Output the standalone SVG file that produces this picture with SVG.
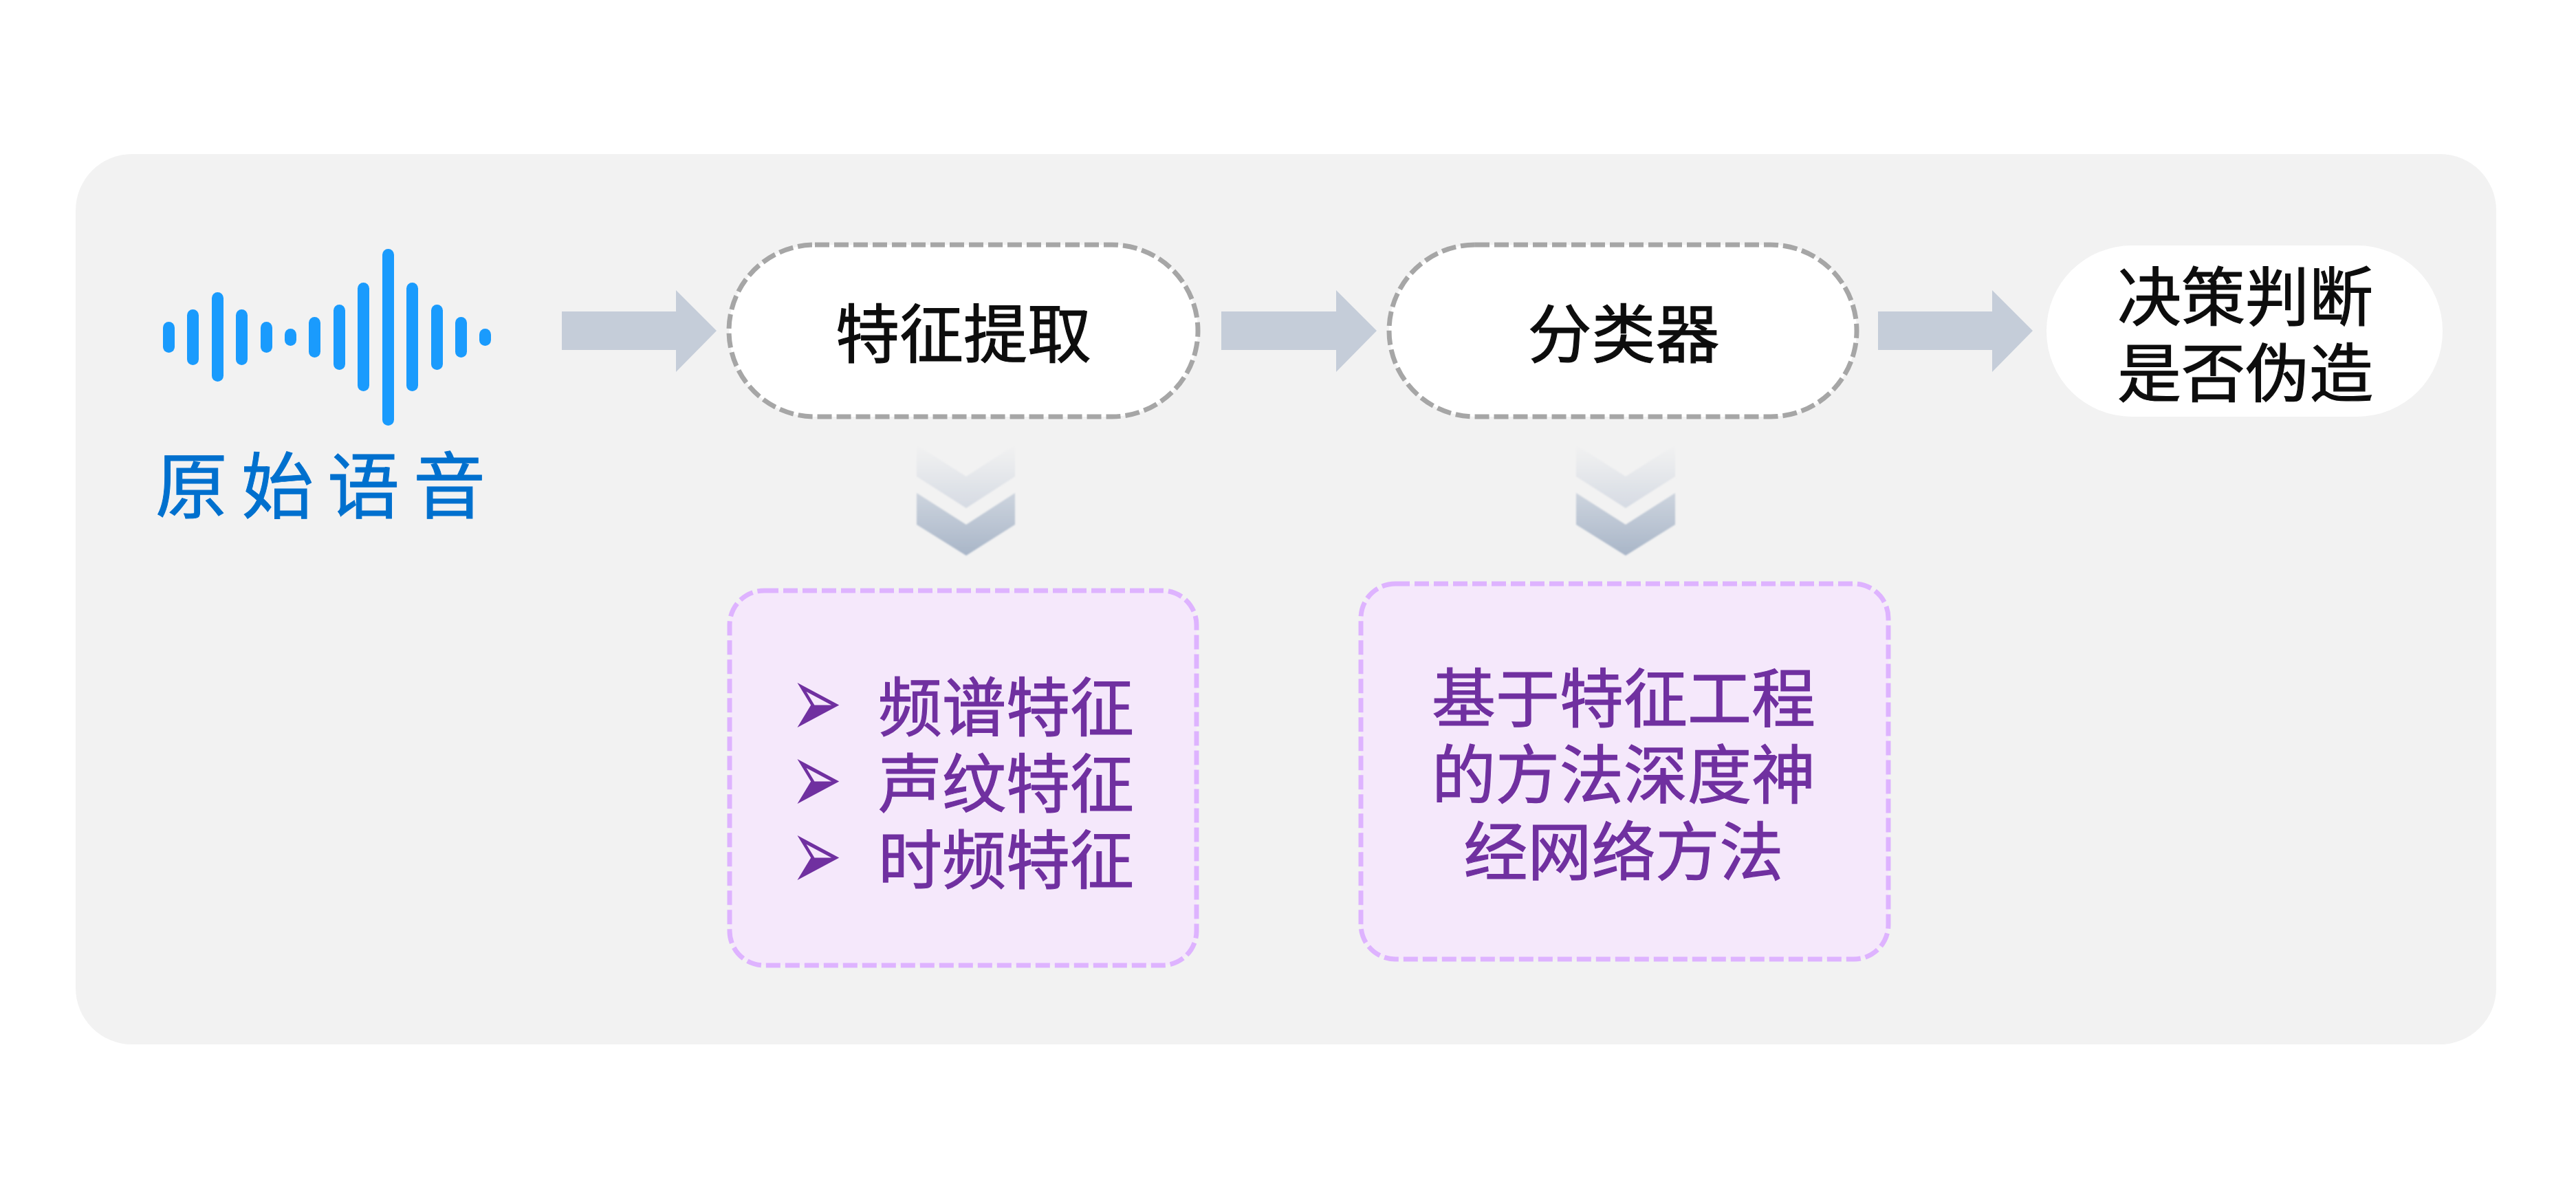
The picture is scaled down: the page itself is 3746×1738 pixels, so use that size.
<svg xmlns="http://www.w3.org/2000/svg" width="3746" height="1738" viewBox="0 0 3746 1738">
  <style>
    text { font-family: "Noto Sans CJK SC", "Noto Sans", sans-serif; }
    .bar { fill: #1a9bfd; }
    .pill { fill: #fff; stroke: #a6a6a6; stroke-width: 7; stroke-dasharray: 21 7; }
    .note { fill: #f5e8fb; stroke: #deb3ff; stroke-width: 7; stroke-dasharray: 21 7; }
    .label { font-size: 93px; fill: #0d0d0d; stroke: #0d0d0d; stroke-width: 1.2; text-anchor: middle; }
    .item { font-size: 93px; fill: #7030a0; stroke: #7030a0; stroke-width: 1.2; text-anchor: middle; }
    .bullet { font-size: 76px; fill: #7030a0; font-family: "DejaVu Sans", sans-serif; text-anchor: middle; }
    .arrow { fill: #c5cdd9; }
  </style>
  <defs>
    <linearGradient id="chev-upper" gradientUnits="userSpaceOnUse" x1="0" y1="647" x2="0" y2="739">
      <stop offset="0" stop-color="#f2f2f2"/>
      <stop offset="1" stop-color="#d6dbe3"/>
    </linearGradient>
    <linearGradient id="chev-lower" gradientUnits="userSpaceOnUse" x1="0" y1="717" x2="0" y2="808">
      <stop offset="0" stop-color="#cdd4de"/>
      <stop offset="1" stop-color="#a9b6c8"/>
    </linearGradient>
    <filter id="soft" x="-5%" y="-5%" width="110%" height="110%">
      <feGaussianBlur stdDeviation="1"/>
    </filter>
  </defs>

  <rect id="panel" x="110" y="224" width="3520" height="1295" rx="82" fill="#f2f2f2"/>

  <g id="connectors">
    <polygon class="arrow" points="817,453 983,453 983,422 1042,481 983,541 983,509 817,509"/>
    <polygon class="arrow" points="1776,453 1943,453 1943,422 2002,481 1943,541 1943,509 1776,509"/>
    <polygon class="arrow" points="2731,453 2897,453 2897,422 2956,481 2897,541 2897,509 2731,509"/>
    <g filter="url(#soft)">
      <polygon fill="url(#chev-upper)" points="1333,647 1405,693 1476,647 1476,693 1405,739 1333,693"/>
      <polygon fill="url(#chev-lower)" points="1333,717 1405,763 1476,717 1476,763 1405,808 1333,763"/>
    </g>
    <g filter="url(#soft)">
      <polygon fill="url(#chev-upper)" points="2292,647 2364,693 2436,647 2436,693 2364,739 2292,693"/>
      <polygon fill="url(#chev-lower)" points="2292,717 2364,763 2436,717 2436,763 2364,808 2292,763"/>
    </g>
  </g>

  <g id="node-source">
    <rect class="bar" x="237" y="468" width="17" height="45" rx="8.5"/>
    <rect class="bar" x="272" y="450" width="17" height="81" rx="8.5"/>
    <rect class="bar" x="308" y="425" width="17" height="130" rx="8.5"/>
    <rect class="bar" x="343" y="450" width="17" height="81" rx="8.5"/>
    <rect class="bar" x="379" y="468" width="17" height="45" rx="8.5"/>
    <rect class="bar" x="414" y="478" width="17" height="25" rx="8.5"/>
    <rect class="bar" x="449" y="461" width="17" height="59" rx="8.5"/>
    <rect class="bar" x="485" y="443" width="17" height="95" rx="8.5"/>
    <rect class="bar" x="520" y="411" width="17" height="158" rx="8.5"/>
    <rect class="bar" x="556" y="362" width="17" height="257" rx="8.5"/>
    <rect class="bar" x="591" y="411" width="17" height="158" rx="8.5"/>
    <rect class="bar" x="627" y="443" width="17" height="95" rx="8.5"/>
    <rect class="bar" x="662" y="461" width="17" height="59" rx="8.5"/>
    <rect class="bar" x="697" y="478" width="17" height="25" rx="8.5"/>
    <text x="226" y="745" font-size="105" letter-spacing="20" fill="#0070ce" stroke="#0070ce" stroke-width="1">原始语音</text>
  </g>

  <g id="node-features">
    <rect class="pill" x="1060" y="356" width="682" height="250" rx="125"/>
    <text class="label" x="1401" y="520">特征提取</text>
  </g>

  <g id="node-classifier">
    <rect class="pill" x="2020" y="356" width="680" height="250" rx="125"/>
    <text class="label" x="2361" y="520">分类器</text>
  </g>

  <g id="node-decision">
    <rect x="2976" y="357" width="576" height="249" rx="124" fill="#fff"/>
    <text class="label" x="3265" y="466">决策判断</text>
    <text class="label" x="3265" y="577">是否伪造</text>
  </g>

  <g id="node-feature-list">
    <rect class="note" x="1061" y="859" width="679" height="545" rx="50"/>
    <text class="bullet" transform="translate(1187,1072) scale(1.18,1.95)">➢</text>
    <text class="bullet" transform="translate(1187,1183) scale(1.18,1.95)">➢</text>
    <text class="bullet" transform="translate(1187,1294) scale(1.18,1.95)">➢</text>
    <text class="item" x="1463" y="1063">频谱特征</text>
    <text class="item" x="1463" y="1174">声纹特征</text>
    <text class="item" x="1463" y="1285">时频特征</text>
  </g>

  <g id="node-classifier-kinds">
    <rect class="note" x="1979" y="849" width="767" height="546" rx="50"/>
    <text class="item" x="2361" y="1050">基于特征工程</text>
    <text class="item" x="2361" y="1161">的方法深度神</text>
    <text class="item" x="2361" y="1273">经网络方法</text>
  </g>
</svg>
